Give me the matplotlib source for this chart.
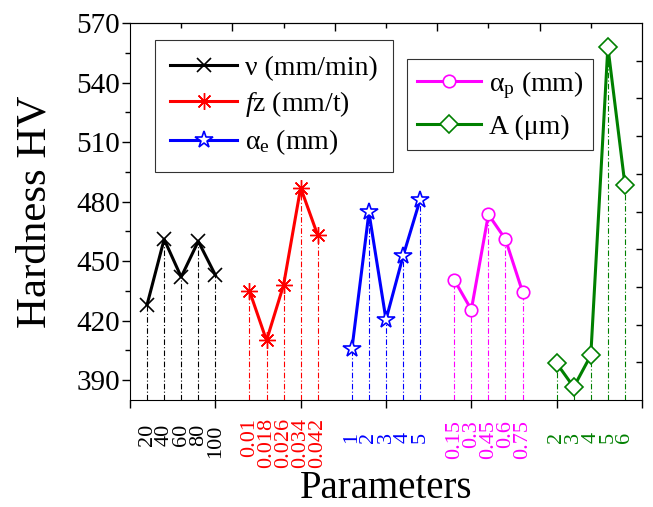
import numpy as np
import matplotlib
matplotlib.use('Agg')
import matplotlib.pyplot as plt
import matplotlib.transforms as mtransforms

plt.rcParams['font.family'] = ['Liberation Serif', 'DejaVu Serif']
plt.rcParams['mathtext.fontset'] = 'custom'
plt.rcParams['mathtext.rm'] = 'Liberation Serif'
plt.rcParams['mathtext.it'] = 'Liberation Serif:italic'

# data
speed_lbl = ['20', '40', '60', '80', '100']
speed_hv = [428, 461, 442, 460, 443]
feed_lbl = ['0.01', '0.018', '0.026', '0.034', '0.042']
feed_hv = [435, 410, 438, 487, 463]
ae_lbl = ['1', '2', '3', '4', '5']
ae_hv = [405.5, 474.5, 420.5, 452.5, 481]
ap_lbl = ['0.15', '0.3', '0.45', '0.6', '0.75']
ap_hv = [440.5, 425.5, 473.5, 461, 434.5]
amp_lbl = ['2', '3', '4', '5', '6']
amp_hv = [398.5, 386.5, 402.5, 558, 488.5]

groups = [
    (speed_lbl, speed_hv, 'black', dict(marker='x', ms=10, mew=1.2), r'ν (mm/min)'),
    (feed_lbl, feed_hv, '#ff0000', dict(marker=(8, 2, 0), ms=12, mew=1.0), r'$\mathit{f}$z (mm/t)'),
    (ae_lbl, ae_hv, '#0000ff', dict(marker='*', ms=13, mew=1.2, mfc='white'), r'α$_\mathregular{e}$ (mm)'),
    (ap_lbl, ap_hv, '#ff00ff', dict(marker='o', ms=9, mew=1.2, mfc='white'), r'α$_\mathregular{p}$ (mm)'),
    (amp_lbl, amp_hv, '#008000', dict(marker='D', ms=9, mew=1.2, mfc='white'), r'A (μm)'),
]
# vertical offset of each group's tick text below the axis (axes fraction)
label_drop = [0.064, 0.048, 0.085, 0.053, 0.085]

fig = plt.figure(figsize=(6.53, 5.07), dpi=100)
ax = fig.add_axes([130 / 653, 107 / 507, 512 / 653, 377 / 507])
ymin, ymax = 380, 570
trans = mtransforms.blended_transform_factory(ax.transData, ax.transAxes)

handles = []
for i, (lbl, hv, col, mk, name) in enumerate(groups):
    x = np.arange(1, 6) + 6 * i
    ax.vlines(x, ymin, hv, colors=col, linewidth=0.8, linestyles=(0, (5, 2, 1, 2)))
    h, = ax.plot(x, hv, color=col, lw=2.2, mec=col, label=name, **mk)
    handles.append(h)
    for xi, s in zip(x, lbl):
        ax.text(xi, -label_drop[i], s, transform=trans, rotation=90, ha='center', va='top',
                color=col, fontsize=16)

ax.set_xlim(0, 30)
ax.set_ylim(ymin, ymax)
ax.set_xticks(np.arange(0, 31, 5))
ax.set_xticklabels([])
ax.tick_params(axis='x', which='major', direction='out', length=6, width=1)
ax.set_yticks(np.arange(390, 571, 30))
ax.set_yticks(np.arange(405, 571, 30), minor=True)
ax.tick_params(axis='y', which='major', direction='out', length=6, width=1, labelsize=21, pad=1)
ax.tick_params(axis='y', which='minor', direction='out', length=3.5, width=1)

sec_r = ax.secondary_yaxis('right')
sec_r.set_yticks(np.arange(399, 570, 19))
sec_r.tick_params(direction='in', length=4, width=1, labelright=False)
sec_t = ax.secondary_xaxis('top')
sec_t.set_xticks(np.arange(6, 30, 6))
sec_t.set_xticks(np.arange(3, 30, 6), minor=True)
sec_t.tick_params(which='major', direction='in', length=6, width=1, labeltop=False)
sec_t.tick_params(which='minor', direction='in', length=3.5, width=1)

ax.set_ylabel('Hardness HV', fontsize=31, labelpad=16)
ax.text(0.5, -0.235, 'Parameters', transform=ax.transAxes, fontsize=28,
        ha='center', va='center')

leg1 = ax.legend(handles=handles[:3], loc='upper left', bbox_to_anchor=(0.049, 0.955),
                 borderaxespad=0, fontsize=20, frameon=True, fancybox=False, edgecolor='black',
                 handlelength=2.4, handletextpad=0.3, labelspacing=0.3, borderpad=0.55)
leg1.get_frame().set_linewidth(0.8)
ax.add_artist(leg1)
leg2 = ax.legend(handles=handles[3:], loc='upper left', bbox_to_anchor=(0.541, 0.904),
                 borderaxespad=0, fontsize=20, frameon=True, fancybox=False, edgecolor='black',
                 handlelength=2.3, handletextpad=0.3, labelspacing=0.5, borderpad=0.35)
leg2.get_frame().set_linewidth(0.8)

fig.savefig('out.png', dpi=100)
